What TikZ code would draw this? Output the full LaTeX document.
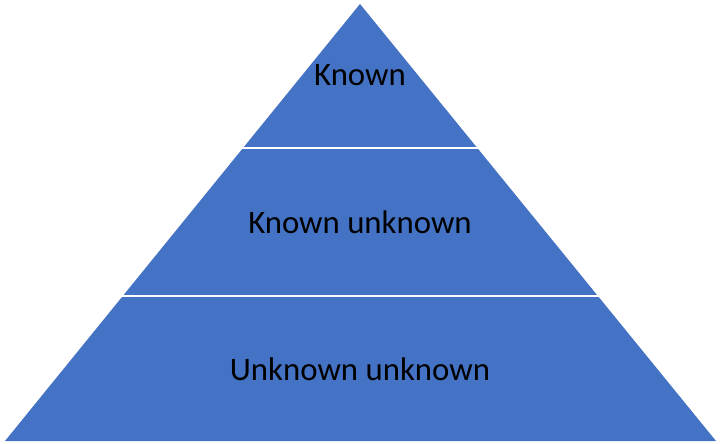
\documentclass[tikz,border=0pt]{standalone}
\usepackage{fontspec}
\setmainfont{Carlito}
\definecolor{tierblue}{HTML}{4472C4}
\begin{document}
\begin{tikzpicture}[x=1pt,y=-1pt,
  tierlabel/.style={font=\fontsize{32.8}{38}\selectfont, text=black, inner sep=0pt, anchor=center},
  gapline/.style={draw=white, line width=2.2pt}]
\useasboundingbox (0,0) rectangle (720,444);
\coordinate (apex) at (360,4);
\coordinate (bl) at (5,441);
\coordinate (br) at (716,441);
\fill[tierblue] (apex) -- (br) -- (bl) -- cycle;
\coordinate (l1) at (200,148);
\coordinate (r1) at (520,148);
\coordinate (l2) at (80,296);
\coordinate (r2) at (640,296);
\draw[gapline] (l1) -- (r1);
\draw[gapline] (l2) -- (r2);
\node[tierlabel] (t1) at (360,75) {Known};
\node[tierlabel] (t2) at (360,222) {Known unknown};
\node[tierlabel] (t3) at (360,369) {Unknown unknown};
\end{tikzpicture}
\end{document}
